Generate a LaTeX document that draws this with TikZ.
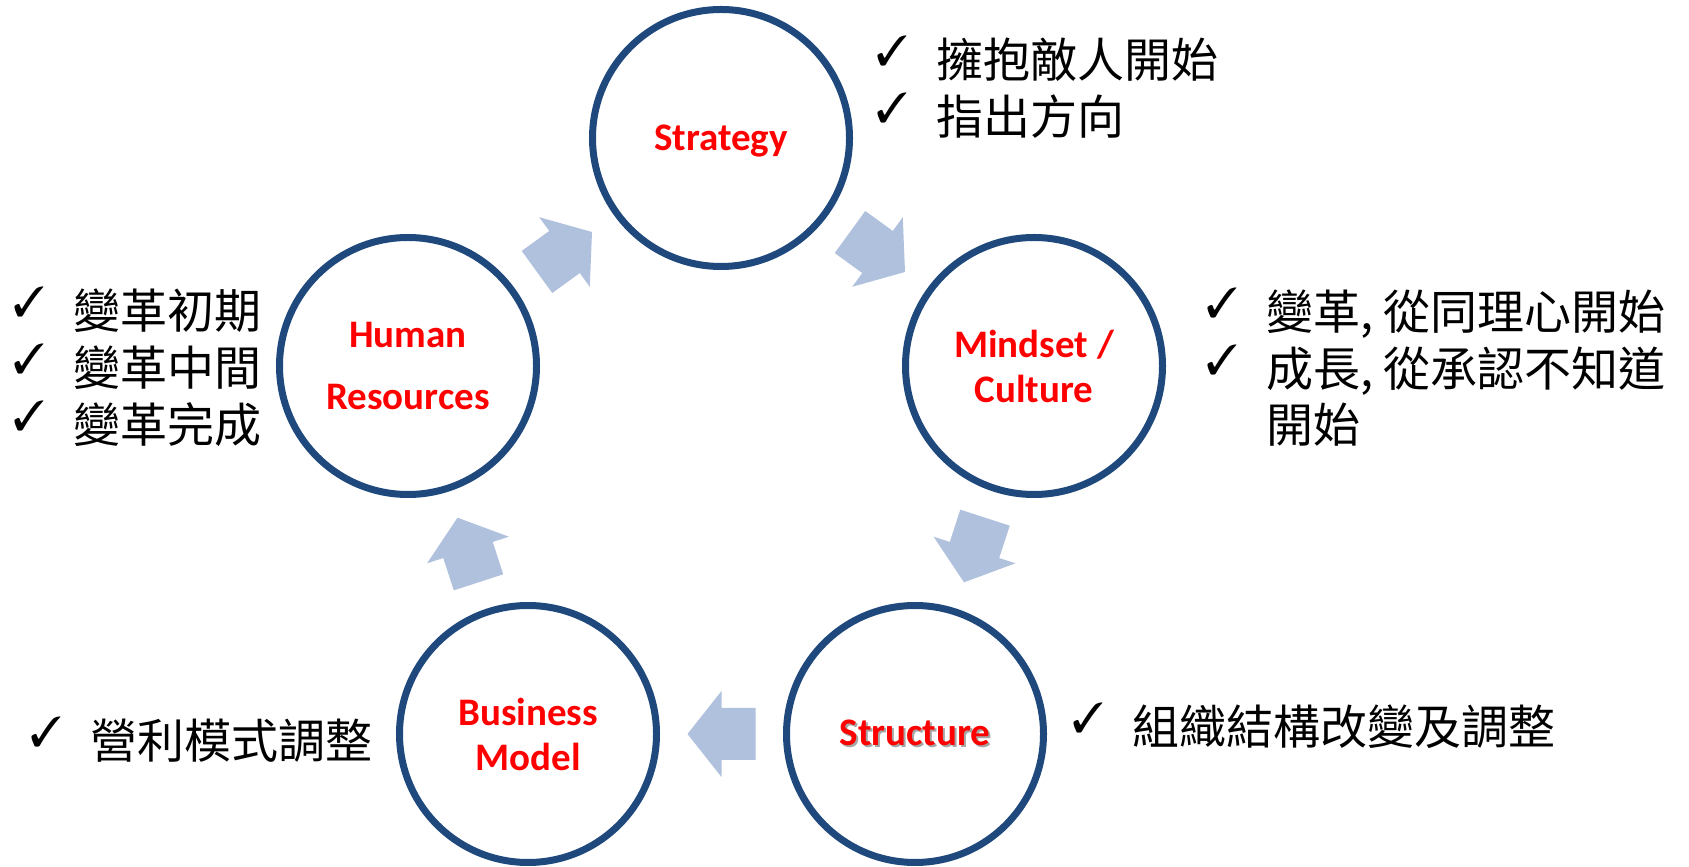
\documentclass[tikz,border=0pt]{standalone}
\usepackage{fontspec}
\usepackage{pifont}
\usepackage{tikz}
\usetikzlibrary{calc}

\setmainfont{Carlito}
\newfontfamily\cjk{Noto Sans CJK TC}

\definecolor{ringblue}{RGB}{31,73,125}
\definecolor{arrowblue}{RGB}{176,193,221}

\newcommand{\checkitem}{\makebox[60pt][l]{\raisebox{12pt}[0pt][0pt]{\fontsize{42}{42}\selectfont\ding{51}}}}
\newcommand{\softshadow}[1]{\makebox[0pt][l]{\hspace{2pt}\raisebox{-2pt}{\textcolor{black!35}{#1}}}#1}
\newcommand{\blockarrow}[3]{%
    \fill[arrowblue, shift={($(#1)!0.5!(#2)$)}, rotate=#3]
        (-34,-26) -- (0,-26) -- (0,-43) -- (34,0) -- (0,43) -- (0,26) -- (-34,26) -- cycle;}

\begin{document}
\begin{tikzpicture}[
    x=1pt, y=1pt,
    ring/.style={circle, draw=ringblue, line width=7pt, fill=white,
        minimum size=257pt, inner sep=0pt, text=red, align=center,
        font=\fontsize{39}{45}\selectfont\bfseries},
    notes/.style={anchor=base west, inner sep=0pt,
        font=\cjk\fontsize{47}{56.5}\selectfont}
]
    \useasboundingbox (0,0) rectangle (1689,867);

    % Circles
    \node[ring, text depth=0pt] (strategy) at (721,729) {Strategy};
    \node[ring] (mindset) at (1034,501) {Mindset /\\Culture};
    \node[ring] (structure) at (915,133) {\softshadow{Structure}};
    \node[ring] (business) at (528,133) {Business\\Model};
    \node[ring, font=\fontsize{39}{61.5}\selectfont\bfseries] (human) at (408,501) {Human\\Resources};

    % Arrows
    \blockarrow{human}{strategy}{36}
    \blockarrow{strategy}{mindset}{-36}
    \blockarrow{mindset}{structure}{252}
    \blockarrow{structure}{business}{180}
    \blockarrow{business}{human}{108}

    % Notes
    \node[notes] (strategynotes) at (876,789) {\begin{tabular}[t]{@{}l@{}l@{}}
        \checkitem & 擁抱敵人開始\\
        \checkitem & 指出方向
    \end{tabular}};
    \node[notes] (mindsetnotes) at (1206,537) {\begin{tabular}[t]{@{}l@{}l@{}}
        \checkitem & 變革, 從同理心開始\\
        \checkitem & 成長, 從承認不知道\\
                   & 開始
    \end{tabular}};
    \node[notes] (structurenotes) at (1072,122) {\begin{tabular}[t]{@{}l@{}l@{}}
        \checkitem & 組織結構改變及調整
    \end{tabular}};
    \node[notes] (businessnotes) at (30,108) {\begin{tabular}[t]{@{}l@{}l@{}}
        \checkitem & 營利模式調整
    \end{tabular}};
    \node[notes] (humannotes) at (13,538) {\begin{tabular}[t]{@{}l@{}l@{}}
        \checkitem & 變革初期\\
        \checkitem & 變革中間\\
        \checkitem & 變革完成
    \end{tabular}};
\end{tikzpicture}
\end{document}
